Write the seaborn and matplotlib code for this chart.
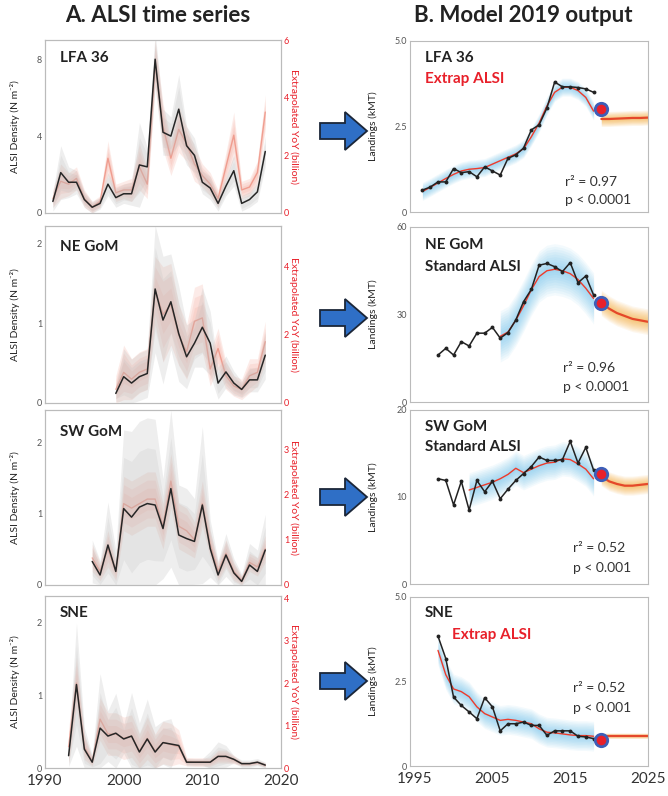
import numpy as np
import seaborn as sns
import matplotlib.pyplot as plt
from matplotlib.patches import Polygon

sns.set_style("white")
plt.rcParams['font.family'] = ['Lato', 'DejaVu Sans']

# ---------------- A. ALSI time series ----------------
lfa_years = list(range(1991, 2019))
lfa_density = [0.6, 2.1, 1.6, 1.6, 0.7, 0.3, 0.5, 1.5, 0.8, 1.0, 1.0, 2.5, 2.4, 8.0,
               4.2, 4.0, 5.4, 3.5, 3.0, 1.6, 1.3, 0.5, 1.4, 2.2, 0.5, 0.7, 1.1, 3.2]
lfa_density_hw = [0.5, 1.4, 0.8, 0.6, 0.4, 0.3, 0.3, 0.6, 0.5, 0.5, 0.6, 2.2, 1.0, 1.4,
                  1.2, 1.0, 1.8, 1.0, 0.9, 0.6, 0.6, 0.4, 0.5, 0.8, 0.4, 0.4, 0.5, 0.8]
lfa_yoy = [0.5, 1.1, 1.0, 1.2, 0.5, 0.2, 0.4, 1.9, 0.7, 0.8, 0.8, 1.6, 1.0, 5.2,
           3.0, 1.9, 2.9, 2.4, 1.7, 1.3, 1.0, 0.5, 1.6, 2.7, 0.8, 0.9, 1.4, 3.5]
lfa_yoy_hw = [0.3, 0.6, 0.4, 0.4, 0.3, 0.2, 0.2, 0.6, 0.3, 0.3, 0.4, 0.8, 0.5, 0.8,
              0.8, 0.6, 0.8, 0.6, 0.6, 0.4, 0.4, 0.3, 0.5, 0.8, 0.3, 0.3, 0.4, 0.6]

ne_years = list(range(1999, 2019))
ne_density = [0.12, 0.33, 0.25, 0.33, 0.37, 1.43, 1.04, 1.27, 0.87, 0.58,
              0.75, 0.95, 0.75, 0.25, 0.39, 0.25, 0.17, 0.29, 0.29, 0.6]
ne_density_hw = [0.1, 0.35, 0.3, 0.3, 0.3, 0.8, 0.8, 0.6, 0.6, 0.4,
                 0.3, 0.5, 0.4, 0.2, 0.2, 0.15, 0.1, 0.15, 0.15, 0.3]
ne_yoy = [0.4, 0.9, 0.7, 0.9, 1.0, 3.3, 2.6, 2.9, 2.0, 1.5,
          2.4, 2.5, 1.0, 1.6, 0.8, 0.5, 0.4, 0.8, 0.9, 1.8]
ne_yoy_hw = [0.4, 0.8, 0.6, 0.6, 0.6, 1.0, 1.4, 1.2, 0.9, 0.8,
             1.0, 1.0, 0.5, 0.6, 0.4, 0.3, 0.3, 0.5, 0.4, 0.6]

sw_years = list(range(1996, 2019))
sw_density = [0.33, 0.14, 0.56, 0.19, 1.07, 0.95, 1.09, 1.14, 1.12, 0.79, 1.35, 0.70,
              0.65, 0.61, 1.12, 0.51, 0.14, 0.42, 0.17, 0.05, 0.28, 0.19, 0.49]
sw_density_hw = [0.3, 0.2, 0.6, 0.3, 1.1, 1.2, 1.2, 1.2, 1.2, 0.7, 1.1, 0.7,
                 0.7, 0.6, 1.1, 0.4, 0.2, 0.3, 0.2, 0.1, 0.3, 0.3, 0.5]
sw_yoy = [0.6, 0.3, 0.8, 0.3, 1.8, 1.7, 1.8, 1.9, 1.9, 1.3, 2.3, 1.3,
          1.2, 1.0, 1.8, 0.9, 0.3, 0.7, 0.3, 0.1, 0.5, 0.4, 0.8]
sw_yoy_hw = [0.3, 0.2, 0.4, 0.2, 0.6, 0.6, 0.6, 0.6, 0.6, 0.5, 0.6, 0.5,
             0.5, 0.4, 0.5, 0.3, 0.2, 0.3, 0.2, 0.1, 0.2, 0.2, 0.3]

sne_years = list(range(1993, 2019))
sne_density = [0.17, 1.15, 0.26, 0.08, 0.55, 0.44, 0.48, 0.40, 0.44, 0.22, 0.40, 0.22, 0.35,
               0.33, 0.31, 0.08, 0.08, 0.08, 0.08, 0.16, 0.16, 0.12, 0.06, 0.06, 0.08, 0.04]
sne_density_hw = [0.15, 0.85, 0.3, 0.1, 0.75, 0.35, 0.55, 0.2, 0.6, 0.4, 0.55, 0.35, 0.3,
                  0.35, 0.05, 0.05, 0.05, 0.05, 0.15, 0.2, 0.15, 0.05, 0.05, 0.05, 0.05, 0.04]
sne_yoy = [0.5, 2.0, 0.5, 0.15, 1.15, 0.8, 0.8, 0.7, 0.75, 0.4, 0.7, 0.4, 0.6,
           0.55, 0.5, 0.15, 0.14, 0.14, 0.14, 0.27, 0.27, 0.2, 0.1, 0.1, 0.13, 0.07]
sne_yoy_hw = [0.4, 0.6, 0.3, 0.1, 0.5, 0.5, 0.5, 0.5, 0.5, 0.4, 0.5, 0.4, 0.5,
              0.5, 0.4, 0.1, 0.1, 0.1, 0.1, 0.15, 0.15, 0.1, 0.05, 0.05, 0.05, 0.05]

# ---------------- B. Model 2019 output ----------------
proj_years = list(range(2019, 2026))

lfa_land_years = list(range(1996, 2019))
lfa_landings = [0.64, 0.73, 0.88, 0.88, 1.27, 1.15, 1.18, 1.03, 1.32, 1.2, 1.08, 1.57,
                1.67, 1.87, 2.4, 2.55, 3.04, 3.8, 3.66, 3.66, 3.64, 3.6, 3.5]
lfa_fit_years = list(range(1996, 2019))
lfa_fit = [0.6, 0.72, 0.85, 0.98, 1.1, 1.2, 1.25, 1.27, 1.3, 1.4, 1.5, 1.6,
           1.7, 1.85, 2.2, 2.6, 3.1, 3.5, 3.65, 3.65, 3.55, 3.35, 2.95]
lfa_2019 = 3.0
lfa_proj = [2.72, 2.72, 2.73, 2.74, 2.75, 2.75, 2.76]

ne_land_years = list(range(1998, 2019))
ne_landings = [16.1, 18.4, 16.1, 20.7, 19.2, 23.6, 23.6, 25.6, 21.9, 23.8, 28.1,
               34.4, 38.6, 46.9, 47.5, 46.4, 44.7, 47.8, 40.9, 43.2, 36.7]
ne_fit_years = list(range(2006, 2019))
ne_fit = [22.5, 24, 28, 33, 38.5, 43, 45, 45.5, 45, 44, 42, 39, 35.5]
ne_2019 = 34.0
ne_proj = [34, 32, 30.5, 29.5, 28.5, 28, 27.5]

sw_land_years = list(range(1998, 2019))
sw_landings = [12.1, 11.9, 9.1, 11.8, 8.5, 11.9, 10.6, 11.8, 9.8, 10.9, 11.9,
               12.7, 13.5, 14.6, 14.2, 14.2, 14.3, 16.4, 13.9, 15.7, 13.1]
sw_fit_years = list(range(2002, 2019))
sw_fit = [10.8, 11.1, 11.4, 11.7, 12.1, 12.6, 13.3, 12.8, 13.2, 13.6, 13.9,
          14.0, 14.4, 14.3, 13.8, 13.2, 12.1]
sw_2019 = 12.7
sw_proj = [12.4, 11.8, 11.5, 11.3, 11.3, 11.4, 11.5]

sne_land_years = list(range(1998, 2019))
sne_landings = [3.84, 3.18, 2.04, 1.79, 1.6, 1.4, 2.02, 1.75, 1.04, 1.25, 1.25,
                1.3, 1.2, 1.2, 0.91, 1.04, 1.04, 1.04, 0.88, 0.86, 0.81]
sne_fit_years = list(range(1998, 2019))
sne_fit = [3.42, 2.7, 2.28, 2.2, 2.05, 1.75, 1.55, 1.45, 1.35, 1.38, 1.35,
           1.3, 1.25, 1.1, 1.0, 0.98, 0.95, 0.92, 0.9, 0.9, 0.88]
sne_2019 = 0.78
sne_proj = [0.88, 0.88, 0.88, 0.88, 0.88, 0.88, 0.88]

W, H = 668, 796
fig = plt.figure(figsize=(W / 100, H / 100), dpi=100)


def px_axes(x0, y0, x1, y1):
    return fig.add_axes([x0 / W, 1 - y1 / H, (x1 - x0) / W, (y1 - y0) / H])


def style(ax, spine='#bbbbbb'):
    for s in ax.spines.values():
        s.set_color(spine)
        s.set_linewidth(0.8)
    ax.tick_params(length=0, labelsize=6.5, colors='#555555', pad=2)


def glow(ax, x, y, hw, color, a=0.06, n=10):
    # soft, fuzzy band: many thin translucent layers
    x = np.asarray(x, float)
    y = np.asarray(y, float)
    for k in np.linspace(2.2, 0.2, n):
        ax.fill_between(x, y - k * hw, y + k * hw, color=color, alpha=a, lw=0)


RED = '#e8202a'
left_rows = [(40, 213), (226, 403), (410, 585), (596, 768)]
right_rows = [(41, 212), (227, 402), (410, 584), (597, 766)]

left_panels = [
    ('LFA 36', lfa_years, lfa_density, lfa_density_hw, lfa_yoy, lfa_yoy_hw,
     (0, 9), [0, 4, 8], (0, 6), [0, 2, 4, 6], 0.896),
    ('NE GoM', ne_years, ne_density, ne_density_hw, ne_yoy, ne_yoy_hw,
     (0, 2.22), [0, 1, 2], (0, 5.2), [0, 2, 4], 0.883),
    ('SW GoM', sw_years, sw_density, sw_density_hw, sw_yoy, sw_yoy_hw,
     (0, 2.45), [0, 1, 2], (0, 3.87), [0, 1, 2, 3], 0.876),
    ('SNE', sne_years, sne_density, sne_density_hw, sne_yoy, sne_yoy_hw,
     (0, 2.37), [0, 1, 2], (0, 4.05), [0, 1, 2, 3, 4], 0.90),
]

for i, (name, yrs, dens, dhw, yoy, yhw, yl, yt, yl2, yt2, ty) in enumerate(left_panels):
    top, bot = left_rows[i]
    ax = px_axes(45, top, 281, bot)
    ax2 = ax.twinx()
    x = np.array(yrs, float)
    d = np.array(dens)
    dh = np.array(dhw)
    r = np.array(yoy)
    rh = np.array(yhw)
    for k, a in [(1.0, 0.22), (0.7, 0.2), (0.4, 0.2)]:
        ax2.fill_between(x, np.clip(r - k * rh, 0, None), r + k * rh,
                         color='#f4a898', alpha=a, lw=0)
    sns.lineplot(x=x, y=r, ax=ax2, color='#ea7a68', lw=1.0, alpha=0.6)
    for k, a in [(1.0, 0.25), (0.65, 0.2)]:
        ax.fill_between(x, np.clip(d - k * dh, 0, None), d + k * dh,
                        color='#bcbcbc', alpha=a, lw=0)
    ax.set_zorder(ax2.get_zorder() + 1)
    ax.patch.set_visible(False)
    sns.lineplot(x=x, y=d, ax=ax, color='#262626', lw=1.1)
    ax.set_xlim(1990, 2020)
    ax.set_ylim(*yl)
    ax.set_yticks(yt)
    ax2.set_ylim(*yl2)
    ax2.set_yticks(yt2)
    style(ax)
    style(ax2)
    ax2.tick_params(axis='y', colors=RED, labelsize=6.5, pad=2)
    ax.set_ylabel('ALSI Density (N m⁻²)', fontsize=7.5, color='#222222')
    ax.yaxis.set_label_coords(-0.105, 0.5)
    ax2.set_ylabel('Extrapolated YoY (billion)', fontsize=7.5, color=RED, rotation=270)
    ax2.yaxis.set_label_coords(1.075, 0.5)
    ax.set_xticks([1990, 2000, 2010, 2020])
    ax.set_xlabel('')
    if i < 3:
        ax.set_xticklabels([])
    else:
        ax.tick_params(axis='x', labelsize=11, colors='#333333', pad=4)
    ax.text(0.064, ty, name, transform=ax.transAxes, fontsize=11, fontweight='bold',
            color='#222222', va='center', ha='left')

right_panels = [
    ('LFA 36', 'Extrap ALSI', RED, 0.063, lfa_land_years, lfa_landings, lfa_fit_years, lfa_fit,
     lfa_2019, lfa_proj, 0.12, 0.10, (0, 5), [0, 2.5, 5], ['0', '2.5', '5.0'],
     'r² = 0.97', 'p < 0.0001', 0.65, 0.175, 0.07),
    ('NE GoM', 'Standard ALSI', '#222222', 0.063, ne_land_years, ne_landings, ne_fit_years, ne_fit,
     ne_2019, ne_proj, 4.0, 2.0, (0, 60), [0, 30, 60], ['0', '30', '60'],
     'r² = 0.96', 'p < 0.0001', 0.643, 0.194, 0.087),
    ('SW GoM', 'Standard ALSI', '#222222', 0.063, sw_land_years, sw_landings, sw_fit_years, sw_fit,
     sw_2019, sw_proj, 0.9, 0.5, (0, 20), [0, 10, 20], ['0', '10', '20'],
     'r² = 0.52', 'p < 0.001', 0.685, 0.207, 0.092),
    ('SNE', 'Extrap ALSI', RED, 0.176, sne_land_years, sne_landings, sne_fit_years, sne_fit,
     sne_2019, sne_proj, 0.2, 0.04, (0, 5), [0, 2.5, 5], ['0', '2.5', '5.0'],
     'r² = 0.52', 'p < 0.001', 0.685, 0.462, 0.343),
]
name_y = [(0.90, 0.78), (0.897, 0.773), (0.904, 0.787), (0.905, 0.775)]

for i, (name, sub, subc, subx, ly, lv, fy, fv, v19, pv, bhw, ohw, yl, yt, ytl,
        rtxt, ptxt, rx, ry, py) in enumerate(right_panels):
    top, bot = right_rows[i]
    ax = px_axes(410, top, 648, bot)
    glow(ax, fy, fv, bhw, '#42b0e6', a=0.06)
    glow(ax, proj_years, pv, ohw, '#f5a01e', a=0.08)
    sns.lineplot(x=fy, y=fv, ax=ax, color='#ee3a2a', lw=1.0)
    sns.lineplot(x=proj_years, y=pv, ax=ax, color='#e5482a', lw=1.6)
    sns.lineplot(x=ly, y=lv, ax=ax, color='#222222', lw=1.1, marker='o',
                 markersize=2.8, markeredgewidth=0)
    sns.scatterplot(x=[2019], y=[v19], ax=ax, s=80, color=RED, edgecolor='#3d5fb8',
                    linewidth=2.0, zorder=6)
    ax.set_xlim(1994.4, 2025)
    ax.set_ylim(*yl)
    ax.set_yticks(yt)
    ax.set_yticklabels(ytl)
    style(ax)
    ax.set_ylabel('Landings (kMT)', fontsize=7.5, color='#222222')
    ax.yaxis.set_label_coords(-0.135, 0.5)
    ax.set_xticks([1995, 2005, 2015, 2025])
    ax.set_xlabel('')
    if i < 3:
        ax.set_xticklabels([])
    else:
        ax.tick_params(axis='x', labelsize=11, colors='#333333', pad=4)
    ny, sy = name_y[i]
    ax.text(0.063, ny, name, transform=ax.transAxes, fontsize=11, fontweight='bold',
            color='#222222', va='center', ha='left')
    ax.text(subx, sy, sub, transform=ax.transAxes, fontsize=11, fontweight='bold',
            color=subc, va='center', ha='left')
    ax.text(rx, ry, rtxt, transform=ax.transAxes, fontsize=10, color='#333333',
            va='center', ha='left')
    ax.text(rx, py, ptxt, transform=ax.transAxes, fontsize=10, color='#333333',
            va='center', ha='left')

# big blue arrows between the columns
for c in [131, 318, 497, 681]:
    pts = [(320, c - 8), (345, c - 8), (345, c - 19), (367, c), (345, c + 19),
           (345, c + 8), (320, c + 8)]
    pts = [(px / W, 1 - py / H) for px, py in pts]
    fig.patches.append(Polygon(pts, closed=True, transform=fig.transFigure,
                               facecolor='#2f6fc6', edgecolor='#1b2638', lw=1.3))

fig.text(158 / W, 1 - 16 / H, 'A. ALSI time series', ha='center', va='center',
         fontsize=16, fontweight='bold', color='#222222')
fig.text(523 / W, 1 - 16 / H, 'B. Model 2019 output', ha='center', va='center',
         fontsize=16, fontweight='bold', color='#222222')

fig.savefig('out.png', dpi=100)
